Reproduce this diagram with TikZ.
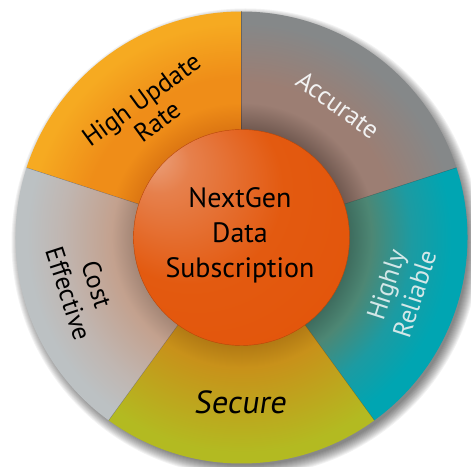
\documentclass[tikz,border=0pt]{standalone}
\usepackage{fontspec}
\setmainfont{PT Sans}
\usetikzlibrary{calc}
% segment colours: S = shadow by the hub, M = tint near hub, O = outer
\definecolor{oS}{HTML}{DC7612}
\definecolor{oM}{HTML}{EF8D18}
\definecolor{oO}{HTML}{F6AA21}
\definecolor{aS}{HTML}{715950}
\definecolor{aM}{HTML}{9C7E73}
\definecolor{aO}{HTML}{858889}
\definecolor{tS}{HTML}{3E6C5E}
\definecolor{tM}{HTML}{4D8774}
\definecolor{tN}{HTML}{1C9BA2}
\definecolor{tO}{HTML}{00A5B2}
\definecolor{sS}{HTML}{B27A14}
\definecolor{sM}{HTML}{C8911A}
\definecolor{sO}{HTML}{B3BA21}
\definecolor{cS}{HTML}{A48676}
\definecolor{cM}{HTML}{C3A18E}
\definecolor{cN}{HTML}{C0B6B1}
\definecolor{cO}{HTML}{BCC1C3}
\definecolor{hubA}{HTML}{ECA886}
\definecolor{hubB}{HTML}{E6804C}
\definecolor{hubC}{HTML}{E35A10}
\definecolor{hubD}{HTML}{E25106}
\definecolor{hubRim}{HTML}{B8460A}
\definecolor{lightTxt}{HTML}{F2F2F2}
\definecolor{tealTxt}{HTML}{D3E7E8}
% radii in absolute points: hub radius 108pt, disc radius 226pt
\pgfdeclareradialshading{shOrange}{\pgfpoint{0pt}{0pt}}{color(0pt)=(oS); color(108pt)=(oS); color(135pt)=(oM); color(160pt)=(oM); color(215pt)=(oO); color(230pt)=(oO)}
\pgfdeclareradialshading{shAcc}{\pgfpoint{0pt}{0pt}}{color(0pt)=(aS); color(108pt)=(aS); color(135pt)=(aM); color(155pt)=(aM); color(215pt)=(aO); color(230pt)=(aO)}
\pgfdeclareradialshading{shTeal}{\pgfpoint{0pt}{0pt}}{color(0pt)=(tS); color(108pt)=(tS); color(130pt)=(tM); color(170pt)=(tN); color(210pt)=(tO); color(230pt)=(tO)}
\pgfdeclareradialshading{shSec}{\pgfpoint{0pt}{0pt}}{color(0pt)=(sS); color(108pt)=(sS); color(130pt)=(sM); color(215pt)=(sO); color(230pt)=(sO)}
\pgfdeclareradialshading{shCost}{\pgfpoint{0pt}{0pt}}{color(0pt)=(cS); color(108pt)=(cS); color(130pt)=(cM); color(180pt)=(cN); color(215pt)=(cO); color(230pt)=(cO)}
\pgfdeclareradialshading{shHub}{\pgfpoint{-22bp}{20bp}}{color(0bp)=(hubA); color(7bp)=(hubB); color(22bp)=(hubC); color(50bp)=(hubD)}
\newcommand\RadOut{226}
\newcommand\makesector[4]{%
  \begin{scope}
    \clip (C) -- ++(#1:\RadOut) arc[start angle=#1,end angle=#2,radius=\RadOut] -- cycle;
    \node[inner sep=0pt, outer sep=0pt] (#4) at (C) {\pgfuseshading{#3}};
  \end{scope}}
\tikzset{
  divider/.style={draw=black, draw opacity=0.25, line width=0.4pt},
  seglabel/.style={align=center, inner sep=0pt, font=\fontsize{26}{30}\selectfont},
  hubtext/.style={align=center, inner sep=0pt, text=black, font=\fontsize{28}{35}\selectfont},
}
\begin{document}
\begin{tikzpicture}[x=1pt,y=1pt]
\useasboundingbox (0,0) rectangle (471,466);
\coordinate (C) at (241.5,228.5);
% soft drop shadow of the disc
\foreach \k in {0,...,11}{
  \fill[black, opacity=0.05] ($(C)+(4,-5)$) circle[radius=\RadOut-3+\k];
}
% five segments
\makesector{90}{162}{shOrange}{segRate}
\makesector{18}{90}{shAcc}{segAcc}
\makesector{-54}{18}{shTeal}{segRel}
\makesector{-126}{-54}{shSec}{segSec}
\makesector{162}{234}{shCost}{segCost}
% dividers
\foreach \a in {90,18,-54,-126,162}{
  \draw[divider] (C) -- ++(\a:\RadOut);
}
% hub
\node[circle, minimum size=216pt, inner sep=0pt, shade, shading=shHub, draw=hubRim, line width=0.4pt] (hub) at (C) {};
\node[hubtext] (hubtxt) at ($(C)+(-1.5,2.5)$) {NextGen\\Data\\Subscription};
% labels
\node[seglabel, rotate=36, font=\fontsize{26}{27}\selectfont] (lblRate) at ($(C)+(126:157)$) {High Update\\Rate};
\node[seglabel, rotate=-36, text=lightTxt] (lblAcc) at ($(C)+(54:164)$) {Accurate};
\node[seglabel, rotate=72, text=tealTxt] (lblRel) at ($(C)+(-18:167)$) {Highly\\Reliable};
\node[seglabel, transform shape, xslant=0.15, font=\fontsize{32}{36}\selectfont] (lblSec) at ($(C)+(-90:165)$) {Secure};
\node[seglabel, rotate=-72] (lblCost) at ($(C)+(198:167)$) {Cost\\Effective};
\end{tikzpicture}
\end{document}
